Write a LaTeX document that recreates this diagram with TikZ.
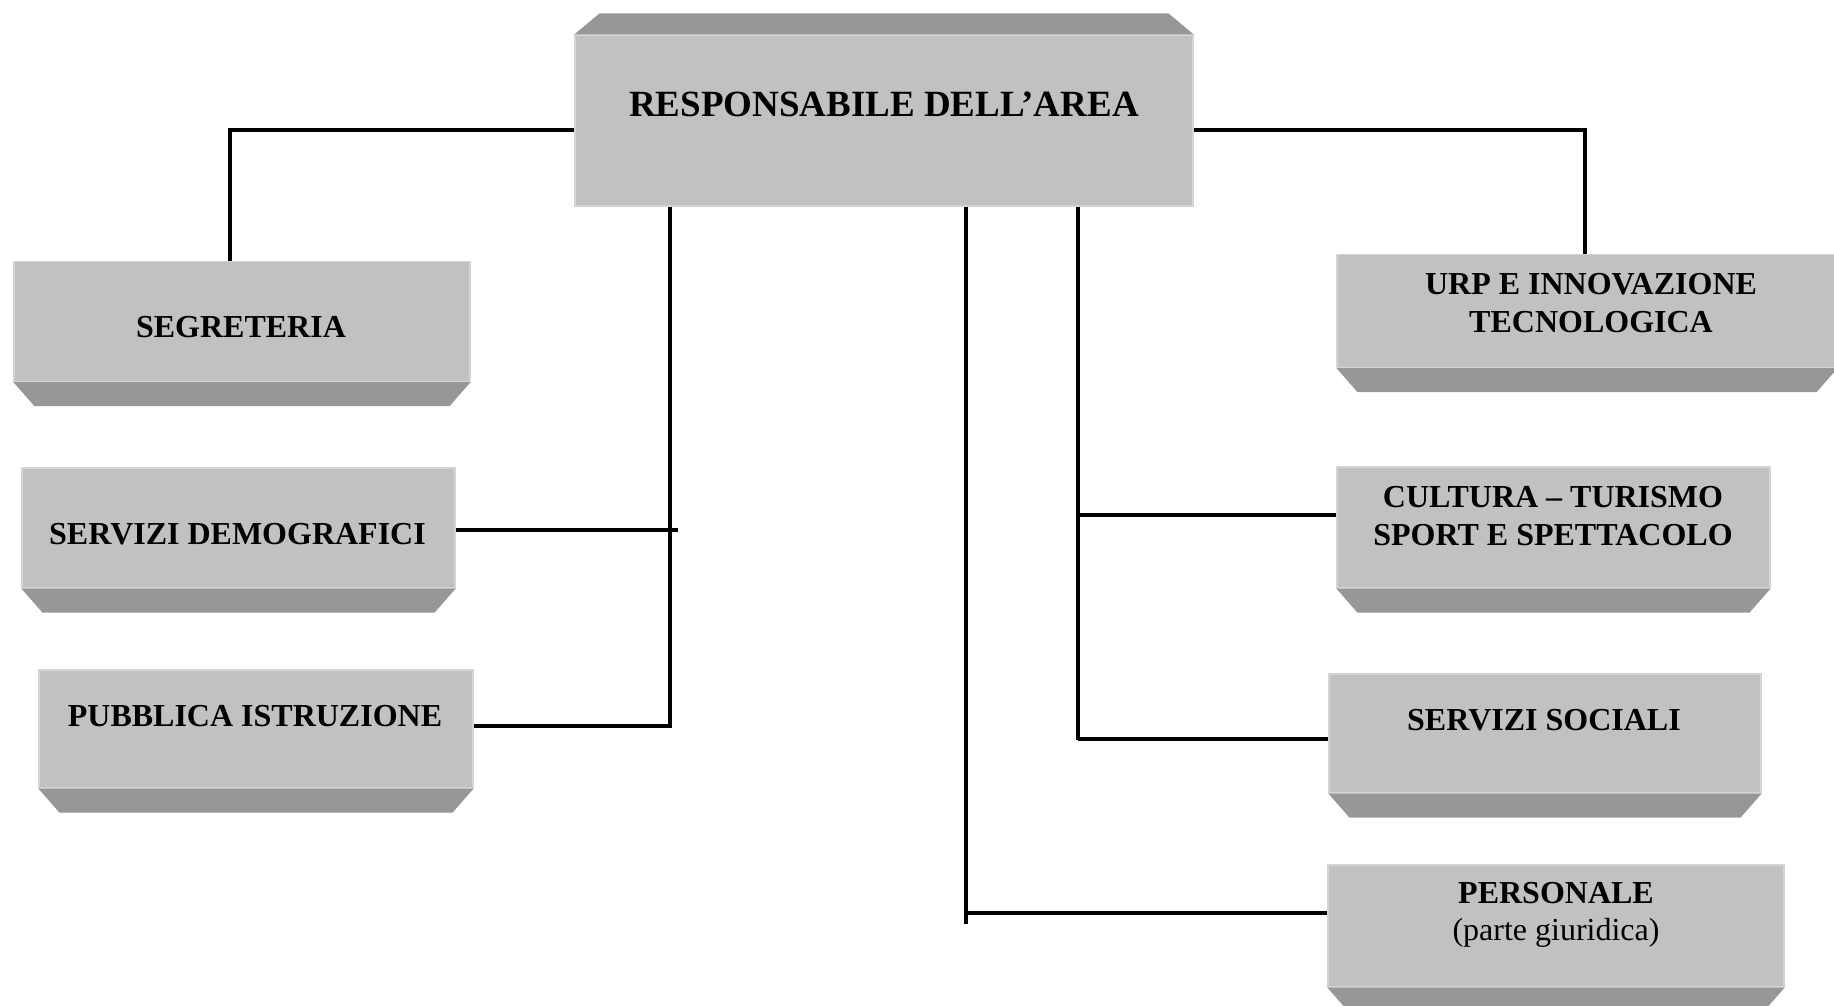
\documentclass[tikz,border=0pt]{standalone}
\usepackage{xcolor}
\usepackage{tikz}
\usepackage{fontspec}
\setmainfont{Liberation Serif}

\definecolor{faccia}{RGB}{193,193,193}
\definecolor{ombra}{RGB}{151,151,151}
\definecolor{bordo}{RGB}{212,212,212}

\tikzset{
  ufficio/.style={fill=faccia, draw=bordo, line width=1.2, inner sep=0},
  smusso/.style={fill=ombra},
  testo/.style={font=\fontsize{32}{37.5}\selectfont\bfseries, align=center, inner sep=0},
  linea/.style={line width=3.5, black}
}

\begin{document}
\begin{tikzpicture}[x=1pt,y=-1pt]
\useasboundingbox (0,0) rectangle (1834,1006);

% caselle
\node[ufficio, minimum width=618, minimum height=171] (resp) at (884,120.5) {};
\node[ufficio, minimum width=456, minimum height=120] (segr) at (242,321.5) {};
\node[ufficio, minimum width=433, minimum height=120] (demo) at (238.5,528) {};
\node[ufficio, minimum width=434, minimum height=118] (istr) at (256,729) {};
\node[ufficio, minimum width=500, minimum height=113] (urp) at (1587,311) {};
\node[ufficio, minimum width=433, minimum height=121] (cult) at (1553.5,527.5) {};
\node[ufficio, minimum width=432, minimum height=119] (soc) at (1545,733.5) {};
\node[ufficio, minimum width=456, minimum height=122] (pers) at (1556,926) {};

% smussi
\fill[smusso] (resp.north west) -- (resp.north east) -- ++(-25,-21) -- ([shift={(25,-21)}]resp.north west) -- cycle;
\fill[smusso] (segr.south west) -- (segr.south east) -- ++(-21,24) -- ([shift={(21,24)}]segr.south west) -- cycle;
\fill[smusso] (demo.south west) -- (demo.south east) -- ++(-21,24) -- ([shift={(21,24)}]demo.south west) -- cycle;
\fill[smusso] (istr.south west) -- (istr.south east) -- ++(-21,24) -- ([shift={(21,24)}]istr.south west) -- cycle;
\fill[smusso] (urp.south west) -- (urp.south east) -- ++(-21,24) -- ([shift={(21,24)}]urp.south west) -- cycle;
\fill[smusso] (cult.south west) -- (cult.south east) -- ++(-21,24) -- ([shift={(21,24)}]cult.south west) -- cycle;
\fill[smusso] (soc.south west) -- (soc.south east) -- ++(-21,24) -- ([shift={(21,24)}]soc.south west) -- cycle;
\fill[smusso] (pers.south west) -- (pers.south east) -- ++(-21,24) -- ([shift={(21,24)}]pers.south west) -- cycle;

% testi
\node[testo, font=\fontsize{37}{43}\selectfont\bfseries] (respT) at (884,104) {RESPONSABILE DELL'AREA};
\node[testo] (segrT) at (241,327) {SEGRETERIA};
\node[testo] (demoT) at (237.5,534.5) {SERVIZI DEMOGRAFICI};
\node[testo] (istrT) at (255,716) {PUBBLICA ISTRUZIONE};
\node[testo] (urpT) at (1591,303) {URP E INNOVAZIONE\\TECNOLOGICA};
\node[testo] (cultT) at (1553,516) {CULTURA -- TURISMO\\SPORT E SPETTACOLO};
\node[testo] (socT) at (1544,720) {SERVIZI SOCIALI};
\node[testo] (persT) at (1556,915) {PERSONALE\\{\mdseries (parte giuridica)}};

% collegamenti
\coordinate (gomS) at (230,130);
\coordinate (gomD) at (1585,130);
\draw[linea] (resp.west |- gomS) -- (gomS) -- (gomS |- segr.north);
\draw[linea] (resp.east |- gomD) -- (gomD) -- (gomD |- urp.north);

\coordinate (trA) at (670,726);
\draw[linea] (trA |- resp.south) -- (trA);
\draw[linea] (demo.east |- 0,530) -- (678,530);
\draw[linea] (istr.east |- trA) -- ([xshift=1.75]trA);

\coordinate (trB) at (966,924);
\draw[linea] (trB |- resp.south) -- (trB);
\draw[linea] (966,913) -- (pers.west |- 0,913);

\coordinate (trC) at (1078,740);
\draw[linea] (trC |- resp.south) -- (trC);
\draw[linea] (1078,515) -- (cult.west |- 0,515);
\draw[linea] (1078,739) -- (soc.west |- 0,739);
\end{tikzpicture}
\end{document}
